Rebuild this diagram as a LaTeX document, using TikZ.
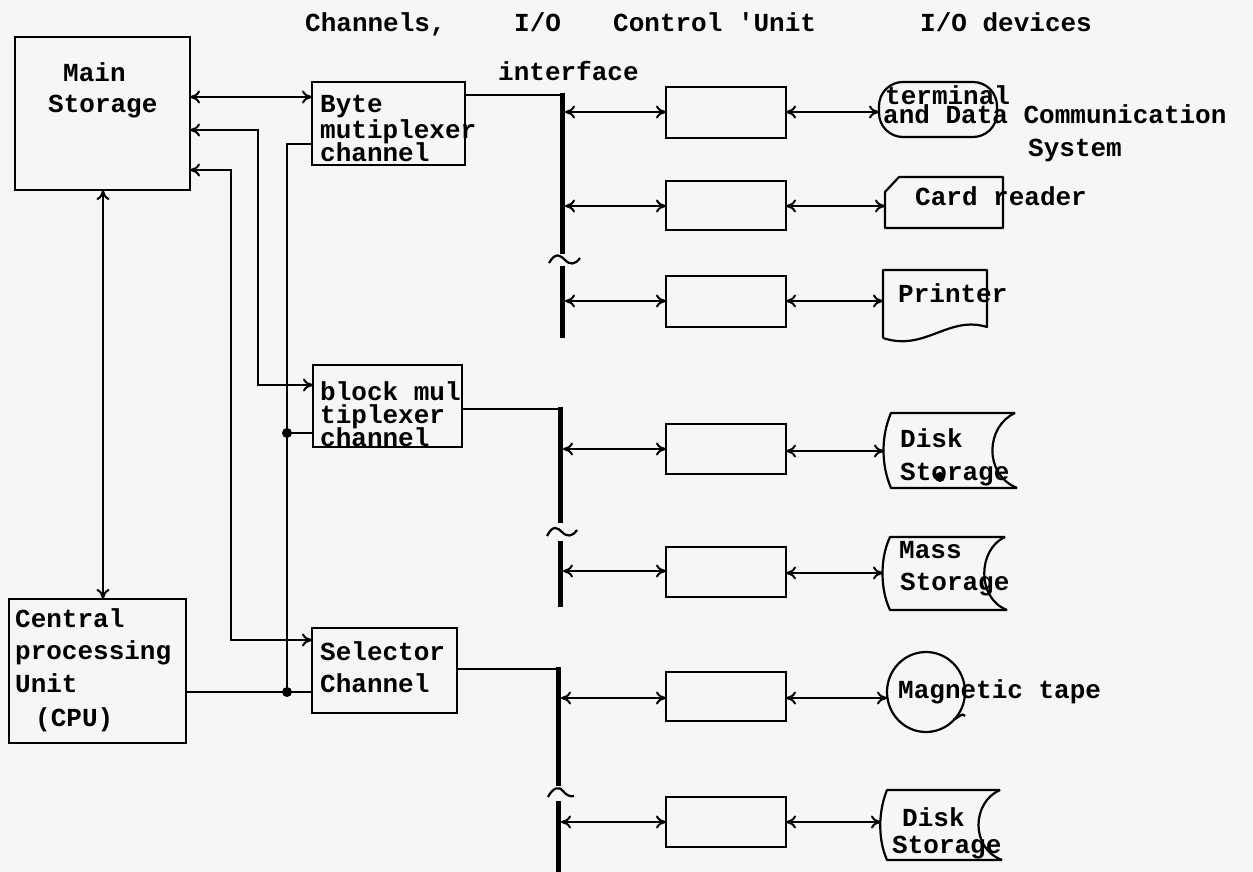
\documentclass[tikz,border=0pt]{standalone}
\usepackage{fontspec}
\setmonofont{Liberation Mono}
\usetikzlibrary{arrows.meta}
\definecolor{paper}{RGB}{246,246,244}
\begin{document}
\begin{tikzpicture}[x=1pt,y=-1pt,
  box/.style={draw, line width=2.2pt, inner sep=0pt, outer sep=0pt, anchor=north west},
  txt/.style={font=\ttfamily\bfseries\fontsize{26}{30}\selectfont, inner sep=0pt, anchor=base west},
  ln/.style={line width=2pt},
  shp/.style={line width=2.2pt, line join=round},
  dbl/.style={line width=2pt, {To[length=10pt,width=13pt]}-{To[length=10pt,width=13pt]}},
  bus/.style={line width=5pt},
  tld/.style={line width=2.2pt},
  jdot/.style={circle, fill, inner sep=0pt, minimum size=10pt}]
\fill[paper] (0,0) rectangle (1253,872);
\useasboundingbox (0,0) rectangle (1253,872);

% ---- boxes
\node[box, minimum width=175pt, minimum height=153pt] (ms) at (15,37) {};
\node[box, minimum width=153pt, minimum height=83pt] (byte) at (312,82) {};
\node[box, minimum width=149pt, minimum height=82pt] (blk) at (313,365) {};
\node[box, minimum width=145pt, minimum height=85pt] (sel) at (312,628) {};
\node[box, minimum width=177pt, minimum height=144pt] (cpu) at (9,599) {};
\node[box, minimum width=120pt, minimum height=51pt] (cu1) at (666,87) {};
\node[box, minimum width=120pt, minimum height=49pt] (cu2) at (666,181) {};
\node[box, minimum width=120pt, minimum height=51pt] (cu3) at (666,276) {};
\node[box, minimum width=120pt, minimum height=50pt] (cu4) at (666,424) {};
\node[box, minimum width=120pt, minimum height=50pt] (cu5) at (666,547) {};
\node[box, minimum width=120pt, minimum height=49pt] (cu6) at (666,672) {};
\node[box, minimum width=120pt, minimum height=50pt] (cu7) at (666,797) {};

% ---- texts
\node[txt] (h1) at (305,32) {Channels,};
\node[txt] (h2) at (514,32) {I/O};
\node[txt] (h3) at (613,32) {Control 'Unit};
\node[txt] (h4) at (920,32) {I/O devices};
\node[txt] (h5) at (498,81) {interface};
\node[txt] (ms1) at (63,82) {Main};
\node[txt] (ms2) at (48,113) {Storage};
\node[txt] (by1) at (320,113) {Byte};
\node[txt] (by2) at (320,139) {mutiplexer};
\node[txt] (by3) at (320,161) {channel};
\node[txt] (bl1) at (320,400) {block mul};
\node[txt] (bl2) at (320,423) {tiplexer};
\node[txt] (bl3) at (320,446) {channel};
\node[txt] (se1) at (320,660) {Selector};
\node[txt] (se2) at (320,692) {Channel};
\node[txt] (cp1) at (15,627) {Central};
\node[txt] (cp2) at (15,659) {processing};
\node[txt] (cp3) at (15,692) {Unit};
\node[txt] (cp4) at (35,726) {(CPU)};
\node[txt] (te1) at (885,105) {terminal};
\node[txt] (te2) at (883,124) {and Data Communication};
\node[txt] (te3) at (1028,157) {System};
\node[txt] (cr1) at (915,205) {Card reader};
\node[txt] (pr1) at (898,302) {Printer};
\node[txt] (dk1) at (900,447) {Disk};
\node[txt] (dk2) at (900,480) {Storage};
\node[txt] (mss1) at (899,558) {Mass};
\node[txt] (mss2) at (900,590) {Storage};
\node[txt] (mt1) at (898,698) {Magnetic tape};
\node[txt] (dd1) at (902,826) {Disk};
\node[txt] (dd2) at (892,853) {Storage};

% ---- device shapes
\draw[shp, rounded corners=24pt] (879,82) rectangle (997,137);
\draw[shp] (885,192) -- (899,177) -- (1003,177) -- (1003,228) -- (885,228) -- cycle;
\draw[shp] (883,338) -- (883,270) -- (987,270) -- (987,327) .. controls (948,315) and (925,352) .. (883,338);
\draw[shp] (1015,413) -- (891,413) .. controls (881,436) and (881,465) .. (891,488) -- (1017,488);
\draw[shp] (1015,413) .. controls (986,426) and (983,474) .. (1017,488);
\fill (940,477) circle (5);
\draw[shp] (1005,537) -- (890,537) .. controls (880,558) and (880,589) .. (890,610) -- (1007,610);
\draw[shp] (1005,537) .. controls (978,549) and (976,598) .. (1007,610);
\draw[shp] (926,692) ellipse (39 and 40);
\draw[shp] (953,720) .. controls (960,717) and (962,712) .. (965,716);
\draw[shp] (1000,790) -- (887,790) .. controls (878,812) and (878,840) .. (887,860) -- (1002,860);
\draw[shp] (1000,790) .. controls (972,802) and (970,848) .. (1002,860);

\coordinate (d1) at (879,112);
\coordinate (d2) at (885,206);
\coordinate (d3) at (883,301);
\coordinate (d4) at (884,451);
\coordinate (d5) at (883,573);
\coordinate (d6) at (887,698);
\coordinate (d7) at (881,822);

% ---- left side connectors
\draw[dbl] (ms.east |- 0,97) -- (byte.west |- 0,97);
\draw[dbl] (ms.east |- 0,130) -- (258,130) -- (258,385) -- (blk.west |- 0,385);
\draw[dbl] (ms.east |- 0,170) -- (231,170) -- (231,640) -- (sel.west |- 0,640);
\node[jdot] (j1) at (287,433) {};
\node[jdot] (j2) at (287,692) {};
\draw[ln] (byte.west |- 0,144) -- (287,144) -- (j2.center);
\draw[ln] (blk.west |- 0,433) -- (j1.center);
\draw[ln] (cpu.east |- 0,692) -- (sel.west |- 0,692);
\draw[dbl] (ms.south -| 103,0) -- (cpu.north -| 103,0);

% ---- channel outputs and buses
\coordinate (b1) at (562,95);
\coordinate (b2) at (560,409);
\coordinate (b3) at (558,669);
\draw[ln] (byte.east |- b1) -- (b1);
\draw[ln] (blk.east |- b2) -- (b2);
\draw[ln] (sel.east |- b3) -- (b3);
\draw[bus] (562,93) -- (562,254);
\draw[bus] (562,266) -- (562,338);
\draw[tld] (549,263) .. controls (556,251) and (561,256) .. (565,260) .. controls (570,265) and (575,265) .. (580,258);
\draw[bus] (560,407) -- (560,523);
\draw[bus] (560,541) -- (560,607);
\draw[tld] (547,536) .. controls (553,524) and (558,528) .. (562,532) .. controls (567,537) and (572,537) .. (577,530);
\draw[bus] (558,667) -- (558,786);
\draw[bus] (558,801) -- (558,872);
\draw[tld] (548,797) .. controls (553,787) and (560,786) .. (563,791) .. controls (566,795) and (570,797) .. (574,796);

% ---- bus to control units
\draw[dbl] (565,112) -- (cu1.west |- 0,112);
\draw[dbl] (565,206) -- (cu2.west |- 0,206);
\draw[dbl] (565,301) -- (cu3.west |- 0,301);
\draw[dbl] (563,449) -- (cu4.west |- 0,449);
\draw[dbl] (563,571) -- (cu5.west |- 0,571);
\draw[dbl] (561,698) -- (cu6.west |- 0,698);
\draw[dbl] (561,822) -- (cu7.west |- 0,822);

% ---- control units to devices
\draw[dbl] (cu1.east |- d1) -- (d1);
\draw[dbl] (cu2.east |- d2) -- (d2);
\draw[dbl] (cu3.east |- d3) -- (d3);
\draw[dbl] (cu4.east |- d4) -- (d4);
\draw[dbl] (cu5.east |- d5) -- (d5);
\draw[dbl] (cu6.east |- d6) -- (d6);
\draw[dbl] (cu7.east |- d7) -- (d7);
\end{tikzpicture}
\end{document}
